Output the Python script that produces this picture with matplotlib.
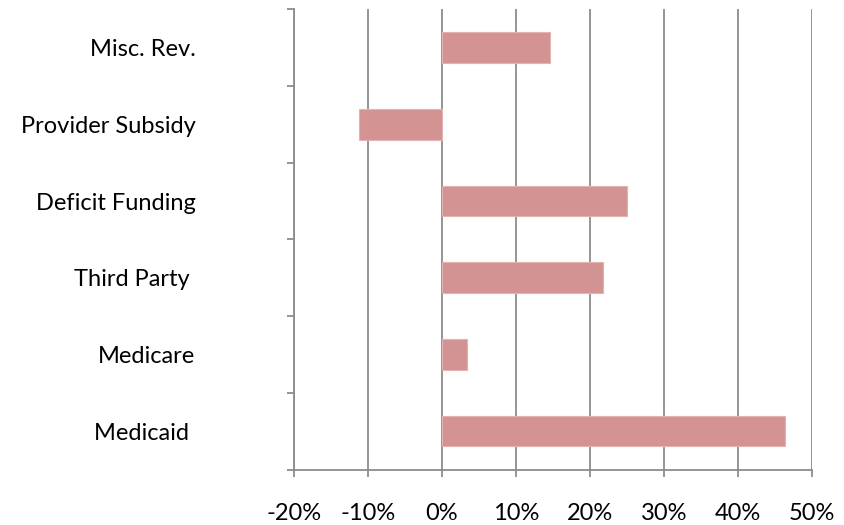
import matplotlib
matplotlib.use('Agg')
from matplotlib import pyplot as plt
from matplotlib.ticker import FixedLocator, PercentFormatter
import numpy as np

categories = ['Misc. Rev.', 'Provider Subsidy', 'Deficit Funding',
	'Third Party ', 'Medicare', 'Medicaid ']
values = [14.6, -11.2, 25.0, 21.7, 3.4, 46.4]
xticks = [-20, -10, 0, 10, 20, 30, 40, 50]

bar_color = '#D39393'
grid_color = '#8C8C8C'

plt.rcParams['font.family'] = ['Lato', 'DejaVu Sans']
plt.rcParams['axes.unicode_minus'] = False

fig = plt.figure(figsize=(8.45, 5.25), dpi=100)
ax = fig.add_axes([0.348, 0.1057, 0.613, 0.8766])

n = len(categories)
ypos = np.arange(n)[::-1] + 0.5
ax.barh(ypos, values, height=0.4, color=bar_color,
	edgecolor='#E3B3B3', linewidth=0.8, zorder=3)

ax.set_xlim(-20, 50)
ax.set_ylim(0, n)
ax.set_xticks(xticks)
ax.xaxis.set_major_formatter(PercentFormatter(decimals=0))
ax.grid(axis='x', color=grid_color, linewidth=1.3, zorder=1)

# tick marks at category boundaries, labels at centres
ax.yaxis.set_major_locator(FixedLocator(np.arange(n + 1)))
ax.yaxis.set_major_formatter(plt.NullFormatter())
ax.yaxis.set_minor_locator(FixedLocator(ypos))
ax.set_yticklabels(categories, minor=True)
ax.tick_params(axis='y', which='major', length=5, width=1.3, color=grid_color)
ax.tick_params(axis='y', which='minor', length=0, pad=71, labelsize=17)
ax.tick_params(axis='x', which='major', length=5, width=1.3, color=grid_color,
	pad=19, labelsize=17)

for s in ('top', 'right'):
	ax.spines[s].set_visible(False)
for s in ('left', 'bottom'):
	ax.spines[s].set_color(grid_color)
	ax.spines[s].set_linewidth(1.3)

fig.savefig('out.png', dpi=100)
